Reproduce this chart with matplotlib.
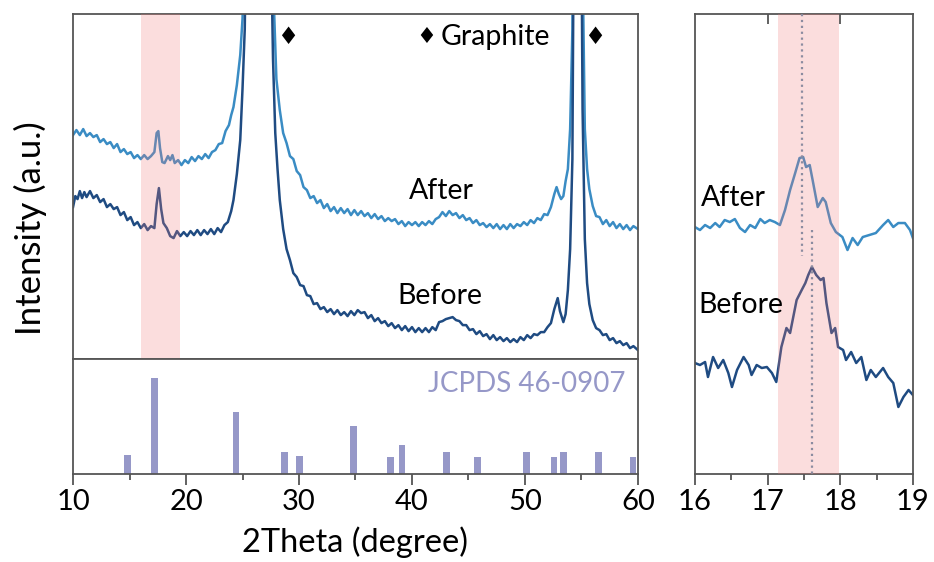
import numpy as np
import matplotlib.pyplot as plt
from matplotlib.ticker import MultipleLocator

plt.rcParams['font.family'] = ['Lato', 'DejaVu Sans']

# ---- data ----
# full scan, "After" (upper trace)
after_x = [10.0, 10.3, 10.6, 10.9, 11.2, 11.5, 11.8, 12.1, 12.4, 12.7, 13.0, 13.3, 13.6, 13.9, 14.2, 14.5,
           14.8, 15.1, 15.4, 15.7, 16.0, 16.3, 16.6, 16.9, 17.2, 17.4, 17.55, 17.7, 17.9, 18.1, 18.4, 18.6,
           18.8, 19.0, 19.3, 19.6, 19.9, 20.2, 20.5, 20.8, 21.1, 21.4, 21.7, 22.0, 22.3, 22.6, 22.9, 23.2,
           23.5, 23.8, 24.0, 24.2, 24.5, 24.8, 25.0, 25.3, 25.6, 26.0, 26.5, 27.0, 27.4, 27.7, 28.0, 28.3,
           28.6, 28.9, 29.2, 29.5, 29.8, 30.1, 30.4, 30.7, 31.0, 31.3, 31.6, 31.9, 32.2, 32.5, 32.8, 33.1,
           33.4, 33.7, 34.0, 34.3, 34.6, 34.9, 35.2, 35.5, 35.8, 36.1, 36.4, 36.7, 37.0, 37.3, 37.6, 37.9,
           38.2, 38.5, 38.8, 39.1, 39.4, 39.7, 40.0, 40.3, 40.6, 40.9, 41.2, 41.5, 41.8, 42.1, 42.4, 42.7,
           43.0, 43.3, 43.6, 43.9, 44.2, 44.5, 44.8, 45.1, 45.4, 45.7, 46.0, 46.3, 46.6, 46.9, 47.2, 47.5,
           47.8, 48.1, 48.4, 48.7, 49.0, 49.3, 49.6, 49.9, 50.2, 50.5, 50.8, 51.1, 51.4, 51.7, 52.0, 52.3,
           52.6, 52.8, 53.0, 53.2, 53.4, 53.6, 53.8, 54.0, 54.2, 54.4, 54.65, 54.9, 55.1, 55.3, 55.5, 55.7,
           56.0, 56.3, 56.6, 56.9, 57.2, 57.5, 57.8, 58.1, 58.4, 58.7, 59.0, 59.3, 59.6, 60.0]
after_y = [224, 229, 224, 230, 223, 226, 222, 224, 217, 220, 215, 217, 211, 215, 207, 210,
           205, 207, 201, 204, 200, 204, 200, 203, 207, 226, 228, 211, 197, 196, 203, 199,
           204, 196, 199, 194, 199, 196, 202, 198, 203, 200, 205, 201, 207, 209, 215, 216,
           228, 234, 244, 252, 274, 304, 340, 450, 700, 1400, 2500, 1400, 600, 380, 280, 249,
           226, 216, 203, 200, 188, 184, 172, 169, 161, 163, 156, 159, 151, 155, 148, 152,
           146, 151, 146, 150, 144, 149, 144, 148, 143, 146, 141, 145, 140, 143, 138, 141,
           138, 140, 135, 138, 133, 137, 134, 137, 133, 137, 134, 138, 135, 140, 142, 147,
           143, 148, 144, 146, 141, 144, 139, 141, 136, 139, 134, 136, 132, 135, 131, 135,
           130, 134, 130, 135, 131, 135, 133, 137, 134, 139, 136, 141, 139, 145, 144, 152,
           165, 172, 165, 160, 163, 178, 190, 230, 330, 900, 2000, 900, 400, 230, 190, 170,
           153, 143, 142, 135, 139, 133, 137, 131, 135, 130, 134, 129, 133, 130]

# full scan, "Before" (lower trace)
before_x = [10.0, 10.2, 10.4, 10.6, 10.8, 11.0, 11.2, 11.5, 11.8, 12.1, 12.4, 12.7, 13.0, 13.3, 13.6, 13.9,
            14.2, 14.5, 14.8, 15.1, 15.4, 15.7, 16.0, 16.3, 16.6, 16.9, 17.2, 17.4, 17.6, 17.8, 18.0, 18.3,
            18.6, 18.9, 19.2, 19.5, 19.8, 20.1, 20.4, 20.7, 21.0, 21.3, 21.6, 21.9, 22.2, 22.5, 22.8, 23.1,
            23.4, 23.7, 24.0, 24.2, 24.5, 24.8, 25.0, 25.2, 25.5, 26.0, 26.5, 27.0, 27.4, 27.7, 27.9, 28.1,
            28.3, 28.6, 28.9, 29.2, 29.5, 29.8, 30.1, 30.4, 30.7, 31.0, 31.3, 31.6, 31.9, 32.2, 32.5, 32.8,
            33.1, 33.4, 33.7, 34.0, 34.3, 34.6, 34.9, 35.2, 35.5, 35.8, 36.1, 36.4, 36.7, 37.0, 37.3, 37.6,
            37.9, 38.2, 38.5, 38.8, 39.1, 39.4, 39.7, 40.0, 40.3, 40.6, 40.9, 41.2, 41.5, 41.8, 42.1, 42.4,
            42.7, 43.0, 43.3, 43.6, 43.9, 44.2, 44.5, 44.8, 45.1, 45.4, 45.7, 46.0, 46.3, 46.6, 46.9, 47.2,
            47.5, 47.8, 48.1, 48.4, 48.7, 49.0, 49.3, 49.6, 49.9, 50.2, 50.5, 50.8, 51.1, 51.4, 51.7, 52.0,
            52.3, 52.6, 52.9, 53.1, 53.4, 53.6, 53.8, 54.0, 54.2, 54.4, 54.65, 54.9, 55.1, 55.3, 55.5, 55.7,
            56.0, 56.3, 56.6, 56.9, 57.2, 57.5, 57.8, 58.1, 58.4, 58.7, 59.0, 59.3, 59.6, 60.0]
before_y = [152, 163, 160, 168, 161, 167, 162, 168, 161, 164, 157, 160, 152, 155, 150, 152,
            144, 147, 139, 142, 134, 137, 131, 135, 129, 133, 131, 155, 171, 150, 136, 131,
            123, 121, 128, 123, 127, 123, 128, 124, 129, 124, 129, 125, 130, 125, 131, 127,
            134, 137, 148, 159, 185, 219, 270, 330, 600, 1400, 2500, 1400, 500, 300, 226, 190,
            159, 130, 110, 99, 86, 82, 74, 73, 64, 63, 55, 56, 50, 52, 47, 50,
            45, 49, 44, 47, 43, 48, 44, 49, 46, 47, 41, 44, 38, 41, 36, 38,
            33, 36, 31, 34, 29, 33, 28, 32, 27, 31, 27, 31, 27, 32, 29, 37,
            38, 40, 41, 42, 39, 38, 34, 34, 29, 30, 25, 28, 23, 25, 20, 24,
            19, 22, 18, 21, 17, 20, 17, 22, 19, 24, 21, 25, 24, 27, 27, 32,
            36, 50, 61, 48, 37, 45, 69, 110, 200, 600, 1800, 600, 250, 120, 76, 55,
            39, 31, 29, 24, 25, 19, 21, 16, 18, 14, 16, 11, 13, 9]

# reference pattern JCPDS 46-0907
ref_pos = [14.85, 17.2, 24.43, 28.74, 30.03, 34.85, 38.07, 39.12, 43.03, 45.78, 50.12, 52.57, 53.42, 56.5, 59.56]
ref_int = [20, 100, 65, 22.5, 19, 50, 18, 30, 22.5, 17.6, 22.5, 17.6, 22.5, 22.5, 17.6]

# zoomed region 16-19 deg
zoom_after_x = [16.0, 16.07, 16.14, 16.21, 16.28, 16.34, 16.41, 16.48, 16.55, 16.62, 16.69, 16.76, 16.83, 16.9,
                16.96, 17.03, 17.1, 17.17, 17.24, 17.31, 17.38, 17.44, 17.49, 17.53, 17.58, 17.62, 17.69, 17.76,
                17.8, 17.87, 17.94, 18.03, 18.1, 18.17, 18.24, 18.31, 18.4, 18.49, 18.59, 18.66, 18.73, 18.8,
                18.89, 18.96, 19.0]
zoom_after_y = [247, 244, 249, 246, 251, 247, 254, 252, 255, 246, 242, 249, 246, 255,
                251, 254, 252, 249, 264, 284, 301, 316, 317, 307, 309, 294, 267, 276,
                272, 251, 242, 237, 224, 236, 229, 237, 239, 241, 249, 254, 247, 251,
                251, 244, 236]
zoom_before_x = [16.0, 16.07, 16.14, 16.18, 16.25, 16.32, 16.39, 16.46, 16.51, 16.58, 16.67, 16.74, 16.78,
                 16.85, 16.92, 16.99, 17.06, 17.12, 17.15, 17.19, 17.26, 17.31, 17.4, 17.47, 17.52, 17.56,
                 17.61, 17.67, 17.73, 17.77, 17.81, 17.88, 17.93, 17.97, 18.04, 18.08, 18.15, 18.22, 18.29,
                 18.36, 18.42, 18.49, 18.59, 18.66, 18.73, 18.8, 18.87, 18.94, 19.0]
zoom_before_y = [111, 109, 112, 97, 117, 106, 114, 101, 87, 104, 117, 109, 99,
                 109, 106, 107, 101, 92, 107, 127, 146, 141, 174, 184, 191, 199,
                 207, 199, 194, 196, 171, 141, 146, 127, 124, 114, 122, 111, 117,
                 94, 104, 97, 106, 97, 91, 67, 77, 84, 79]

c_after = '#3a8cc4'
c_before = '#1f4b82'
c_ref = '#9698c8'
c_span = '#f37b7b'
c_spine = '#555555'
lw = 1.8

fig = plt.figure(figsize=(9.34, 5.62), dpi=100)
ax1 = fig.add_axes([0.0782, 0.361, 0.6048, 0.614])
ax2 = fig.add_axes([0.0782, 0.1566, 0.6048, 0.2044], sharex=ax1)
ax3 = fig.add_axes([0.744, 0.1566, 0.2334, 0.8184])

for ax in (ax1, ax2, ax3):
    for s in ax.spines.values():
        s.set_color(c_spine)
        s.set_linewidth(1.3)

# upper panel: patterns
ax1.plot(after_x, after_y, color=c_after, lw=lw)
ax1.plot(before_x, before_y, color=c_before, lw=lw)
ax1.axvspan(16.0, 19.5, color=c_span, alpha=0.25, lw=0, zorder=3)
ax1.set_xlim(10, 60)
ax1.set_ylim(0, 345)
ax1.tick_params(axis='both', which='both', bottom=False, left=False, labelbottom=False, labelleft=False)
ax1.text(42.6, 168, 'After', fontsize=20.5, ha='center', va='center')
ax1.text(42.5, 63, 'Before', fontsize=20.5, ha='center', va='center')
ax1.text(29.0, 322, '\u2666', fontsize=17, ha='center', va='center', family=['DejaVu Sans'])
ax1.text(41.3, 322, '\u2666', fontsize=16, ha='center', va='center', family=['DejaVu Sans'])
ax1.text(42.5, 322, 'Graphite', fontsize=20.5, ha='left', va='center')
ax1.text(56.2, 322, '\u2666', fontsize=17, ha='center', va='center', family=['DejaVu Sans'])

# lower panel: reference bars
ax2.bar(ref_pos, ref_int, width=0.6, color=c_ref)
ax2.set_ylim(0, 120)
ax2.set_xlim(10, 60)
ax2.xaxis.set_major_locator(MultipleLocator(10))
ax2.xaxis.set_minor_locator(MultipleLocator(5))
ax2.tick_params(axis='x', which='major', direction='out', length=8, width=1.3, color=c_spine,
                labelsize=21, pad=3)
ax2.tick_params(axis='x', which='minor', direction='out', length=4, width=1.3, color=c_spine)
ax2.tick_params(axis='y', left=False, labelleft=False)
ax2.text(58.9, 0.78, 'JCPDS 46-0907', color=c_ref, fontsize=20, ha='right', va='center',
         transform=ax2.get_xaxis_transform())
ax2.set_xlabel('2Theta (degree)', fontsize=23.5, labelpad=8)

# right panel: zoom on 16-19 deg
ax3.plot(zoom_after_x, zoom_after_y, color=c_after, lw=lw)
ax3.plot(zoom_before_x, zoom_before_y, color=c_before, lw=lw)
ax3.axvspan(17.15, 17.98, color=c_span, alpha=0.25, lw=0, zorder=3)
ax3.plot([17.48, 17.48], [460, 218], ls=':', color='#8c8ca0', lw=1.6, zorder=4)
ax3.plot([17.61, 17.61], [244, 0], ls=':', color='#8c8ca0', lw=1.6, zorder=4)
ax3.set_xlim(16, 19)
ax3.set_ylim(0, 460)
ax3.xaxis.set_major_locator(MultipleLocator(1))
ax3.xaxis.set_minor_locator(MultipleLocator(0.5))
ax3.tick_params(axis='x', which='major', direction='out', length=8, width=1.3, color=c_spine,
                labelsize=21, pad=3)
ax3.tick_params(axis='x', which='minor', direction='out', length=4, width=1.3, color=c_spine)
ax3.tick_params(axis='y', left=False, labelleft=False)
top = ax3.secondary_xaxis('top')
top.set_xticks([17, 18])
top.tick_params(direction='in', length=7, width=1.3, color=c_spine, labeltop=False)
top.spines['top'].set_visible(False)
ax3.text(16.08, 276, 'After', fontsize=20.5, ha='left', va='center')
ax3.text(16.05, 169, 'Before', fontsize=20.5, ha='left', va='center')

fig.text(0.033, 0.594, 'Intensity (a.u.)', fontsize=25, rotation=90, ha='center', va='center')

fig.savefig('out.png', dpi=100)
